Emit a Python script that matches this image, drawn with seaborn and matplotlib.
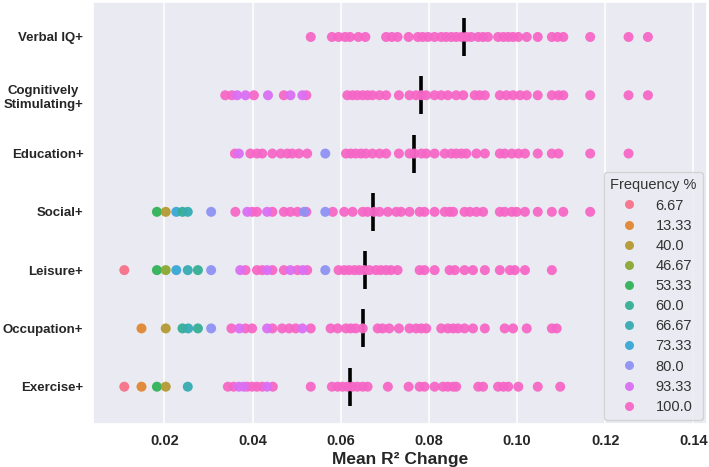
import matplotlib
matplotlib.use("Agg")
import matplotlib.pyplot as plt
import seaborn as sns
import pandas as pd

# ---------------- data ----------------
categories = ["Verbal IQ+", "Cognitively\nStimulating+", "Education+", "Social+",
              "Leisure+", "Occupation+", "Exercise+"]
freq_levels = ["6.67", "13.33", "40.0", "46.67", "53.33", "60.0", "66.67",
               "73.33", "80.0", "93.33", "100.0"]

# mean R2 change per category (black markers)
category_means = [0.0880, 0.0783, 0.0767, 0.0674, 0.0654, 0.0650, 0.0621]

verbal_full = [0.0532, 0.0580, 0.0595, 0.0610, 0.0621, 0.0640, 0.0656, 0.0703, 0.0716,
               0.0729, 0.0754, 0.0775, 0.0786, 0.0798, 0.0813, 0.0828, 0.0839, 0.0851,
               0.0862, 0.0874, 0.0885, 0.0896, 0.0912, 0.0923, 0.0934, 0.0957, 0.0969,
               0.0980, 0.0991, 0.1003, 0.1022, 0.1047, 0.1079, 0.1092, 0.1105, 0.1166,
               0.1253, 0.1297]
verbal_part_vals = []
verbal_part_freq = []

cog_full = [0.0338, 0.0353, 0.0403, 0.0471, 0.0522, 0.0615, 0.0627, 0.0638, 0.0650,
            0.0661, 0.0672, 0.0688, 0.0703, 0.0732, 0.0756, 0.0771, 0.0783, 0.0794,
            0.0813, 0.0828, 0.0843, 0.0862, 0.0878, 0.0904, 0.0915, 0.0927, 0.0961,
            0.0976, 0.0991, 0.1007, 0.1022, 0.1047, 0.1079, 0.1094, 0.1105, 0.1166,
            0.1253, 0.1297]
cog_part_vals = [0.0365, 0.0384, 0.0435, 0.0486, 0.0513]
cog_part_freq = ["93.33", "93.33", "93.33", "93.33", "93.33"]

edu_full = [0.0360, 0.0395, 0.0410, 0.0422, 0.0445, 0.0464, 0.0479, 0.0490, 0.0505,
            0.0524, 0.0612, 0.0623, 0.0634, 0.0646, 0.0657, 0.0672, 0.0688, 0.0703,
            0.0732, 0.0756, 0.0767, 0.0783, 0.0794, 0.0813, 0.0836, 0.0851, 0.0862,
            0.0874, 0.0885, 0.0908, 0.0927, 0.0961, 0.0972, 0.0988, 0.1003, 0.1018,
            0.1047, 0.1079, 0.1094, 0.1166, 0.1253]
edu_part_vals = [0.0369, 0.0565]
edu_part_freq = ["93.33", "80.0"]

social_full = [0.0361, 0.0399, 0.0410, 0.0445, 0.0471, 0.0486, 0.0502, 0.0522, 0.0582,
               0.0608, 0.0627, 0.0650, 0.0661, 0.0676, 0.0688, 0.0707, 0.0726, 0.0737,
               0.0756, 0.0779, 0.0790, 0.0813, 0.0836, 0.0847, 0.0855, 0.0881, 0.0893,
               0.0908, 0.0923, 0.0961, 0.0972, 0.0988, 0.0999, 0.1018, 0.1047, 0.1079,
               0.1105, 0.1166]
social_part_vals = [0.0183, 0.0203, 0.0227, 0.0241, 0.0253, 0.0306, 0.0388, 0.0433,
                    0.0517, 0.0565]
social_part_freq = ["53.33", "40.0", "73.33", "60.0", "66.67", "80.0", "93.33",
                    "93.33", "80.0", "80.0"]

leisure_full = [0.0384, 0.0410, 0.0422, 0.0445, 0.0471, 0.0502, 0.0524, 0.0595, 0.0608,
                0.0619, 0.0631, 0.0642, 0.0653, 0.0665, 0.0680, 0.0691, 0.0703, 0.0714,
                0.0729, 0.0779, 0.0790, 0.0813, 0.0847, 0.0859, 0.0881, 0.0900, 0.0927,
                0.0961, 0.0984, 0.0995, 0.1018, 0.1079]
leisure_part_vals = [0.0109, 0.0183, 0.0203, 0.0227, 0.0253, 0.0276, 0.0306, 0.0372,
                     0.0433, 0.0486, 0.0514, 0.0565]
leisure_part_freq = ["6.67", "53.33", "46.67", "73.33", "66.67", "60.0", "80.0",
                     "93.33", "93.33", "93.33", "93.33", "80.0"]

occ_full = [0.0352, 0.0384, 0.0399, 0.0445, 0.0467, 0.0483, 0.0498, 0.0532, 0.0577,
            0.0593, 0.0612, 0.0623, 0.0634, 0.0650, 0.0684, 0.0695, 0.0710, 0.0732,
            0.0756, 0.0771, 0.0783, 0.0794, 0.0828, 0.0843, 0.0855, 0.0866, 0.0881,
            0.0900, 0.0927, 0.0972, 0.0991, 0.1022, 0.1079, 0.1090]
occ_part_vals = [0.0148, 0.0203, 0.0241, 0.0254, 0.0276, 0.0306, 0.0370, 0.0433, 0.0513]
occ_part_freq = ["13.33", "40.0", "60.0", "66.67", "60.0", "80.0", "93.33", "93.33",
                 "93.33"]

exer_full = [0.0344, 0.0357, 0.0388, 0.0399, 0.0410, 0.0422, 0.0446, 0.0532, 0.0580,
             0.0593, 0.0604, 0.0615, 0.0627, 0.0638, 0.0650, 0.0661, 0.0707, 0.0754,
             0.0779, 0.0790, 0.0813, 0.0832, 0.0843, 0.0855, 0.0862, 0.0912, 0.0923,
             0.0957, 0.0969, 0.0980, 0.1003, 0.1047, 0.1098]
exer_part_vals = [0.0109, 0.0148, 0.0183, 0.0203, 0.0253, 0.0369, 0.0380, 0.0433]
exer_part_freq = ["6.67", "13.33", "53.33", "40.0", "66.67", "93.33", "93.33", "93.33"]

# ---------------- build table ----------------
groups = [
    (verbal_full, verbal_part_vals, verbal_part_freq),
    (cog_full, cog_part_vals, cog_part_freq),
    (edu_full, edu_part_vals, edu_part_freq),
    (social_full, social_part_vals, social_part_freq),
    (leisure_full, leisure_part_vals, leisure_part_freq),
    (occ_full, occ_part_vals, occ_part_freq),
    (exer_full, exer_part_vals, exer_part_freq),
]
rows = []
for cat, (full, pv, pf) in zip(categories, groups):
    for v in full:
        rows.append((cat, v, "100.0"))
    for v, f in zip(pv, pf):
        rows.append((cat, v, f))
df = pd.DataFrame(rows, columns=["Model", "Mean R² Change", "Frequency %"])
mean_df = pd.DataFrame({"Model": categories, "Mean R² Change": category_means})

# ---------------- plot ----------------
sns.set_theme(style="darkgrid")
plt.rcParams["font.family"] = ["Liberation Sans", "DejaVu Sans"]

fig = plt.figure(figsize=(7.09, 4.67), dpi=100)
ax = fig.add_axes([93 / 709, 1 - 424 / 467, (707 - 93) / 709, (424 - 2) / 467])

sns.stripplot(data=df, x="Mean R² Change", y="Model", hue="Frequency %",
              order=categories, hue_order=freq_levels, palette="husl",
              jitter=False, dodge=False, size=7.2, linewidth=0, alpha=0.95, ax=ax)

sns.pointplot(data=mean_df, x="Mean R² Change", y="Model", order=categories,
              color="black", markers="|", linestyle="none", errorbar=None,
              markersize=27, markeredgewidth=2.6, ax=ax)

ax.set_xlim(0.0038, 0.1431)
ax.set_ylim(6.64, -0.6)
ax.set_xticks([0.02, 0.04, 0.06, 0.08, 0.10, 0.12, 0.14])
ax.set_xticklabels(["0.02", "0.04", "0.06", "0.08", "0.10", "0.12", "0.14"])
ax.grid(axis="y", visible=False)
ax.grid(axis="x", color="white", linewidth=1.1)

for lab in ax.get_xticklabels():
    lab.set_fontweight("bold")
    lab.set_fontsize(10.5)
    lab.set_color("#262626")
for lab in ax.get_yticklabels():
    lab.set_fontweight("bold")
    lab.set_fontsize(9.5)
    lab.set_color("#262626")
    lab.set_multialignment("center")
ax.tick_params(axis="y", length=0, pad=7)
ax.tick_params(axis="x", length=0, pad=7)

ax.set_xlabel("Mean R² Change", fontsize=12.5, fontweight="bold", color="#262626",
              labelpad=3)
ax.set_ylabel("")

leg = ax.legend(title="Frequency %", loc="lower right", bbox_to_anchor=(1.0, 0.0),
                fontsize=10.5, title_fontsize=10.5, frameon=True,
                handletextpad=0.8, borderpad=0.45, labelspacing=0.42,
                markerscale=0.9, borderaxespad=0.25)
leg.get_frame().set_facecolor("#eaeaf2")
leg.get_frame().set_edgecolor("#cccccc")
for t in leg.get_texts():
    t.set_color("#333333")
leg.get_title().set_color("#333333")

fig.savefig("out.png", dpi=100)
